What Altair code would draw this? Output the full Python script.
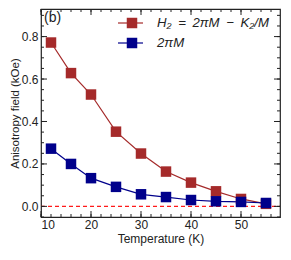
import altair as alt
import pandas as pd

temps = [12, 16, 20, 25, 30, 35, 40, 45, 50, 55]
h2_vals = [0.772, 0.628, 0.527, 0.352, 0.249, 0.164, 0.112, 0.071, 0.035, 0.012]
m_vals = [0.272, 0.200, 0.133, 0.092, 0.057, 0.044, 0.030, 0.024, 0.021, 0.016]
series_names = ["H\u2082\u2002=\u20022\u03c0M\u2002\u2212\u2002K\u2082/M", "2\u03c0M"]
series_colors = ["#a52a2a", "#00008b"]

x_major = [10, 20, 30, 40, 50]
x_minor = list(range(10, 58, 2))
y_major = [0.0, 0.2, 0.4, 0.6, 0.8]
y_minor = [round(-0.05 + 0.05 * i, 2) for i in range(0, 20)]

XD = [10, 57.8]
YD = [-0.05, 0.93]
W, H = 239, 208
FONT = "Liberation Sans"
TC = "#222222"

df = pd.DataFrame({
    "T": temps * 2,
    "v": h2_vals + m_vals,
    "s": [series_names[0]] * len(temps) + [series_names[1]] * len(temps),
})

xs = alt.Scale(domain=XD, nice=False, zero=False)
ys = alt.Scale(domain=YD, nice=False, zero=False)
cs = alt.Scale(domain=series_names, range=series_colors)

base = alt.Chart(df)
lines = base.mark_line(strokeWidth=1.2).encode(
    x=alt.X("T:Q", scale=xs, axis=alt.Axis(title="Temperature (K)", values=x_major, ticks=False,
                                           domain=False, grid=False, labelFont=FONT, labelFontSize=12,
                                           titleFont=FONT, titleFontSize=12, titleFontWeight="normal",
                                           labelColor=TC, titleColor=TC, labelPadding=2, titlePadding=3)),
    y=alt.Y("v:Q", scale=ys, axis=alt.Axis(title="Anisotropy field (kOe)", values=y_major, format=".1f",
                                           ticks=False, domain=False, grid=False, labelFont=FONT,
                                           labelFontSize=12, titleFont=FONT, titleFontSize=11.5,
                                           titleFontWeight="normal", labelColor=TC, titleColor=TC,
                                           labelPadding=3, titlePadding=1)),
    color=alt.Color("s:N", scale=cs, legend=None),
    detail="s:N",
)
points = base.mark_square(size=110, opacity=1).encode(
    x=alt.X("T:Q", scale=xs), y=alt.Y("v:Q", scale=ys),
    color=alt.Color("s:N", scale=cs, legend=None),
)

zero_df = pd.DataFrame({"y": [0.0], "x1": [XD[0]], "x2": [XD[1]]})
zero = alt.Chart(zero_df).mark_rule(color="#ff1a1a", strokeDash=[4, 3], strokeWidth=1.1).encode(
    y=alt.Y("y:Q", scale=ys), x=alt.X("x1:Q", scale=xs), x2="x2:Q")

# inward ticks on all four sides
xmaj = pd.DataFrame({"t": x_major})
xmin = pd.DataFrame({"t": x_minor})
ymaj = pd.DataFrame({"t": y_major})
ymin = pd.DataFrame({"t": y_minor})
ticks = []
for d, L in [(xmaj, 6), (xmin, 3)]:
    ticks.append(alt.Chart(d).mark_rule(color=TC, strokeWidth=1).encode(
        x=alt.X("t:Q", scale=xs), y=alt.value(H), y2=alt.value(H - L)))
    ticks.append(alt.Chart(d).mark_rule(color=TC, strokeWidth=1).encode(
        x=alt.X("t:Q", scale=xs), y=alt.value(0), y2=alt.value(L)))
for d, L in [(ymaj, 6), (ymin, 3)]:
    ticks.append(alt.Chart(d).mark_rule(color=TC, strokeWidth=1).encode(
        y=alt.Y("t:Q", scale=ys), x=alt.value(0), x2=alt.value(L)))
    ticks.append(alt.Chart(d).mark_rule(color=TC, strokeWidth=1).encode(
        y=alt.Y("t:Q", scale=ys), x=alt.value(W), x2=alt.value(W - L)))

# legend
leg_y = [14, 34]
leg_layers = []
for i, name in enumerate(series_names):
    d = pd.DataFrame({"s": [name]})
    leg_layers.append(alt.Chart(d).mark_rule(color=series_colors[i], strokeWidth=1.2).encode(
        x=alt.value(77), x2=alt.value(102), y=alt.value(leg_y[i])))
    leg_layers.append(alt.Chart(d).mark_square(size=110, color=series_colors[i], opacity=1).encode(
        x=alt.value(91), y=alt.value(leg_y[i])))
    leg_layers.append(alt.Chart(d).mark_text(align="left", baseline="middle", font=FONT, fontSize=13.2,
                                             fontStyle="italic", color=TC).encode(
        x=alt.value(116), y=alt.value(leg_y[i]), text="s:N"))

label_b = alt.Chart(pd.DataFrame({"t": ["(b)"]})).mark_text(
    align="left", baseline="middle", font=FONT, fontSize=14, color=TC).encode(
    x=alt.value(3), y=alt.value(9), text="t:N")

chart = alt.layer(zero, *ticks, lines, points, *leg_layers, label_b).properties(
    width=W, height=H,
    autosize=alt.AutoSizeParams(type="none"),
    padding={"left": 33, "top": 1, "right": 3, "bottom": 31},
).configure_view(stroke=TC, strokeWidth=1.2)

chart.save("out.html", embed_options={"renderer": "svg", "actions": False})
